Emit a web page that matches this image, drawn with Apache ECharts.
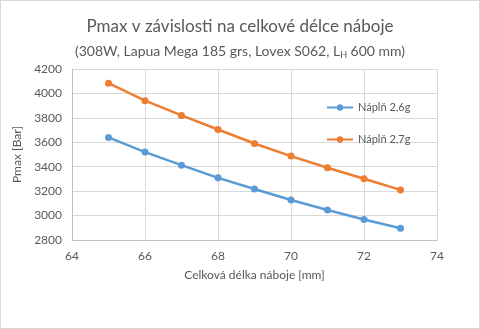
<!DOCTYPE html>
<html><head><meta charset="utf-8">
<script src="https://cdn.jsdelivr.net/npm/echarts@6/dist/echarts.min.js"></script>
<style>html,body{margin:0;padding:0;background:#fff}#c{width:478px;height:327px;border:1px solid #d9d9d9}</style>
</head><body><div id="c"></div>
<script>
var xValues = [65, 66, 67, 68, 69, 70, 71, 72, 73];
var seriesNames = ['Náplň 2,6g', 'Náplň 2,7g'];
var fill26 = [3640, 3520, 3413, 3309, 3218, 3128, 3045, 2968, 2896];
var fill27 = [4084, 3941, 3820, 3705, 3590, 3487, 3391, 3301, 3210];
var font = 'Lato, "Open Sans", sans-serif';
var txt = '#595959';
var chart = echarts.init(document.getElementById('c'));
function pts(arr){ return xValues.map(function(x,i){return [x, arr[i]];}); }
chart.setOption({
  animation: false,
  textStyle: {fontFamily: font},
  title: [{
    text: 'Pmax v závislosti na celkové délce náboje',
    left: 'center', top: 12,
    textStyle: {fontFamily: font, fontSize: 17, fontWeight: 'normal', color: txt}
  },{
    text: '(308W, Lapua Mega 185 grs, Lovex S062, L{sub|H} 600 mm)',
    left: 'center', top: 37,
    textStyle: {fontFamily: font, fontSize: 14, fontWeight: 'normal', color: txt,
      rich: {sub: {fontSize: 9, verticalAlign: 'bottom', padding: [8,0,0,0], color: txt, fontFamily: font}}}
  }],
  grid: {left: 71, right: 42, top: 68, bottom: 88},
  legend: {
    orient: 'vertical', left: 320, top: 96, itemGap: 21,
    itemWidth: 26, itemHeight: 8,
    textStyle: {fontFamily: font, fontSize: 11, color: txt},
    data: seriesNames
  },
  xAxis: {
    type: 'value', min: 64, max: 74, interval: 2,
    name: 'Celková délka náboje [mm]', nameLocation: 'middle', nameGap: 29,
    nameTextStyle: {fontFamily: font, fontSize: 12, color: txt},
    axisLine: {lineStyle: {color: '#bfbfbf'}},
    axisTick: {show: false},
    axisLabel: {fontFamily: font, fontSize: 12, color: txt, margin: 10},
    splitLine: {show: true, lineStyle: {color: '#d9d9d9'}}
  },
  yAxis: {
    type: 'value', min: 2800, max: 4200, interval: 200,
    name: 'Pmax [Bar]', nameLocation: 'middle', nameGap: 33, nameRotate: 90,
    nameTextStyle: {fontFamily: font, fontSize: 12, color: txt},
    axisLine: {show: true, lineStyle: {color: '#bfbfbf'}},
    axisTick: {show: false},
    axisLabel: {fontFamily: font, fontSize: 12, color: txt, margin: 10,
      formatter: function(v){ return String(v); }},
    splitLine: {show: true, lineStyle: {color: '#d9d9d9'}}
  },
  series: [{
    name: seriesNames[0], type: 'line', data: pts(fill26),
    symbol: 'circle', symbolSize: 7,
    lineStyle: {width: 2.5, color: '#5b9bd5'}, itemStyle: {color: '#5b9bd5'}
  },{
    name: seriesNames[1], type: 'line', data: pts(fill27),
    symbol: 'circle', symbolSize: 7,
    lineStyle: {width: 2.5, color: '#ed7d31'}, itemStyle: {color: '#ed7d31'}
  }]
});
</script></body></html>
